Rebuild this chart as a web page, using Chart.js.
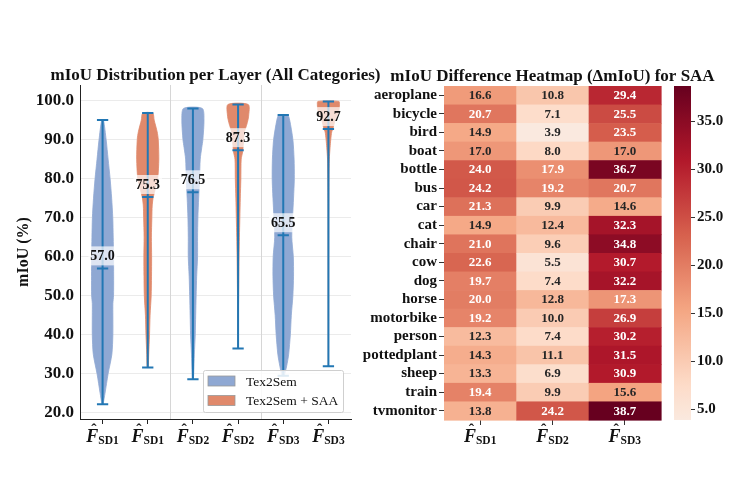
<!DOCTYPE html>
<html lang="en">
<head>
<meta charset="UTF-8">
<title>mIoU Distribution and Difference Heatmap</title>
<script src="https://cdn.jsdelivr.net/npm/chart.js@4.4.0/dist/chart.umd.min.js"></script>
<style>
    body { margin: 0; background: #ffffff; }
    #wrap { position: relative; width: 745px; height: 478px; overflow: hidden; }
    #wrap canvas { position: absolute; top: 0; }
</style>
</head>
<body>
<div id="wrap">
    <canvas id="violinChart" width="400" height="478" style="left:0px"></canvas>
    <canvas id="heatChart" width="390" height="478" style="left:355px"></canvas>
    <canvas id="colorbarChart" width="80" height="478" style="left:665px"></canvas>
</div>
<script>
// ---- violin data (left panel) ----
const violinLayers = ['SD1', 'SD1', 'SD2', 'SD2', 'SD3', 'SD3'];
const violinGroup = [0, 1, 0, 1, 0, 1];
const groupNames = ['Tex2Sem', 'Tex2Sem + SAA'];
const violinMin = [22.2, 31.6, 28.6, 36.5, 29.5, 31.9];
const violinMax = [95.0, 96.8, 98.0, 99.0, 96.3, 99.8];
const violinMedian = [57.0, 75.3, 76.5, 87.3, 65.5, 92.7];
const yTicks = [20, 30, 40, 50, 60, 70, 80, 90, 100];

// density profiles (level, relative width)
const sd1BaseLevels = [22.2, 25, 30, 35, 40, 45, 48, 50, 55, 60, 65, 70, 75, 80, 85, 90, 95.0];
const sd1BaseDensity = [0.05, 0.22, 0.5, 0.84, 0.93, 0.93, 0.93, 0.99, 1.0, 0.99, 0.96, 0.92, 0.82, 0.68, 0.5, 0.32, 0.08];
const sd1SaaLevels = [31.6, 35, 40, 45, 50, 55, 60, 65, 70, 73, 75, 77, 80, 85, 90, 92, 95, 96.8];
const sd1SaaDensity = [0.05, 0.09, 0.16, 0.21, 0.31, 0.34, 0.35, 0.33, 0.37, 0.4, 0.48, 0.65, 0.9, 1.0, 0.95, 0.85, 0.58, 0.45];
const sd2BaseLevels = [28.6, 30, 35, 40, 45, 50, 55, 60, 65, 70, 75, 80, 85, 88, 90, 95, 98.0];
const sd2BaseDensity = [0.04, 0.07, 0.13, 0.21, 0.25, 0.29, 0.34, 0.42, 0.42, 0.45, 0.52, 0.6, 0.66, 0.8, 0.9, 1.0, 0.85];
const sd2SaaLevels = [36.5, 45, 50, 55, 60, 65, 70, 75, 80, 85, 87, 90, 92, 94, 96, 99.0];
const sd2SaaDensity = [0.01, 0.03, 0.05, 0.07, 0.09, 0.12, 0.16, 0.2, 0.25, 0.28, 0.42, 0.5, 0.58, 0.8, 0.95, 0.92];
const sd3BaseLevels = [29.5, 32, 35, 40, 45, 50, 55, 60, 65, 70, 75, 80, 85, 90, 95, 96.3];
const sd3BaseDensity = [0.1, 0.31, 0.49, 0.64, 0.73, 0.87, 0.93, 0.91, 0.77, 0.84, 0.93, 1.0, 0.98, 0.87, 0.58, 0.4];
const sd3SaaLevels = [31.9, 50, 70, 80, 85, 88, 90, 92, 93, 95, 97, 99, 99.8];
const sd3SaaDensity = [0.01, 0.02, 0.03, 0.05, 0.08, 0.15, 0.21, 0.3, 0.43, 0.6, 0.92, 1.0, 0.95];

const violinLevels = [sd1BaseLevels, sd1SaaLevels, sd2BaseLevels, sd2SaaLevels, sd3BaseLevels, sd3SaaLevels];
const violinDensity = [sd1BaseDensity, sd1SaaDensity, sd2BaseDensity, sd2SaaDensity, sd3BaseDensity, sd3SaaDensity];

// ---- heatmap data (right panel) ----
const layerNames = ['SD1', 'SD2', 'SD3'];
const classes = ['aeroplane', 'bicycle', 'bird', 'boat', 'bottle', 'bus', 'car', 'cat', 'chair',
    'cow', 'dog', 'horse', 'motorbike', 'person', 'pottedplant', 'sheep', 'train', 'tvmonitor'];
const deltaSD1 = [16.6, 20.7, 14.9, 17.0, 24.0, 24.2, 21.3, 14.9, 21.0, 22.6, 19.7, 20.0, 19.2, 12.3, 14.3, 13.3, 19.4, 13.8];
const deltaSD2 = [10.8, 7.1, 3.9, 8.0, 17.9, 19.2, 9.9, 12.4, 9.6, 5.5, 7.4, 12.8, 10.0, 7.4, 11.1, 6.9, 9.9, 24.2];
const deltaSD3 = [29.4, 25.5, 23.5, 17.0, 36.7, 20.7, 14.6, 32.3, 34.8, 30.7, 32.2, 17.3, 26.9, 30.2, 31.5, 30.9, 15.6, 38.7];
const colorbarTicks = [5, 10, 15, 20, 25, 30, 35];

const deltaColumns = [deltaSD1, deltaSD2, deltaSD3];
const allDelta = deltaColumns.flat();
const cbMin = Math.min(...allDelta);
const cbMax = Math.max(...allDelta);

// ---- styles ----
const SERIF = '"Liberation Serif", "DejaVu Serif", serif';
const groupColors = ['#8fa8d3', '#e0896b'];
const lineColor = '#2277b4';
const halfWidth = 0.245;   // max violin half width in category units
const capWidth = 0.125;
// RdBu_r upper half (centre 0)
const cmapColors = ['#f7f7f7', '#fddbc7', '#f4a582', '#d6604d', '#b2182b', '#67001f'];

Chart.defaults.font.family = SERIF;
Chart.defaults.color = '#111';

function hexToRgb(h) {
    const n = parseInt(h.slice(1), 16);
    return [(n >> 16) & 255, (n >> 8) & 255, n & 255];
}
const cmapRgb = cmapColors.map(hexToRgb);

function cmap(v) {
    const t = Math.max(0, Math.min(1, v / cbMax)) * (cmapRgb.length - 1);
    const i = Math.min(Math.floor(t), cmapRgb.length - 2);
    const f = t - i;
    const a = cmapRgb[i], b = cmapRgb[i + 1];
    return [0, 1, 2].map(k => a[k] + (b[k] - a[k]) * f);
}
function rgbStr(c) {
    return 'rgb(' + c.map(Math.round).join(',') + ')';
}
function luminance(c) {
    const ch = x => {
        x /= 255;
        return x <= 0.03928 ? x / 12.92 : Math.pow((x + 0.055) / 1.055, 2.4);
    };
    return 0.2126 * ch(c[0]) + 0.7152 * ch(c[1]) + 0.0722 * ch(c[2]);
}

// F-hat with subscript layer name, drawn as text
function drawLayerLabel(ctx, cx, base, name) {
    ctx.save();
    ctx.fillStyle = '#111';
    ctx.textBaseline = 'alphabetic';
    ctx.font = 'italic bold 18px ' + SERIF;
    const fW = ctx.measureText('F').width;
    ctx.font = 'bold 11.5px ' + SERIF;
    const sW = ctx.measureText(name).width;
    const x0 = cx - (fW + sW) / 2;
    ctx.textAlign = 'left';
    ctx.font = 'italic bold 18px ' + SERIF;
    ctx.fillText('F', x0, base);
    ctx.textAlign = 'center';
    ctx.font = 'bold 16px ' + SERIF;
    ctx.fillText('\u02C6', x0 + fW * 0.62, base - 7);
    ctx.textAlign = 'left';
    ctx.font = 'bold 11.5px ' + SERIF;
    ctx.fillText(name, x0 + fW, base + 2);
    ctx.restore();
}

function drawTitle(chart, text) {
    const {ctx, chartArea: a} = chart;
    ctx.save();
    ctx.font = 'bold 17px ' + SERIF;
    ctx.fillStyle = '#111';
    ctx.textAlign = 'center';
    ctx.textBaseline = 'alphabetic';
    ctx.fillText(text, (a.left + a.right) / 2, a.top - 5);
    ctx.restore();
}

// ---- violin chart ----
const violinDatasets = violinLevels.map((levels, i) => {
    const dens = violinDensity[i];
    const right = levels.map((y, k) => ({x: i + halfWidth * dens[k], y: y}));
    const left = levels.map((y, k) => ({x: i - halfWidth * dens[k], y: y})).reverse();
    const color = groupColors[violinGroup[i]];
    return {
        data: right.concat(left, [right[0]]),
        showLine: true,
        fill: 'shape',
        backgroundColor: color,
        borderColor: color,
        borderWidth: 0.8,
        pointRadius: 0,
        tension: 0.25
    };
});

const violinExtras = {
    id: 'violinExtras',
    beforeDatasetsDraw(chart) {
        const {ctx, chartArea: a, scales: {x}} = chart;
        ctx.save();
        ctx.strokeStyle = '#d6d6d6';
        ctx.lineWidth = 1;
        for (let k = 1; k < layerNames.length; k++) {
            const px = Math.round(x.getPixelForValue(2 * k - 0.5)) + 0.5;
            ctx.beginPath();
            ctx.moveTo(px, a.top);
            ctx.lineTo(px, a.bottom);
            ctx.stroke();
        }
        ctx.restore();
    },
    afterDatasetsDraw(chart) {
        const {ctx, scales: {x, y}} = chart;
        const cap = x.getPixelForValue(capWidth) - x.getPixelForValue(0);
        ctx.save();
        ctx.strokeStyle = lineColor;
        ctx.lineWidth = 2;
        violinMedian.forEach((med, i) => {
            const cx = x.getPixelForValue(i);
            const yLo = y.getPixelForValue(violinMin[i]);
            const yHi = y.getPixelForValue(violinMax[i]);
            const yMed = y.getPixelForValue(med);
            ctx.beginPath();
            ctx.moveTo(cx, yLo); ctx.lineTo(cx, yHi);
            [yLo, yHi, yMed].forEach(py => {
                ctx.moveTo(cx - cap, py); ctx.lineTo(cx + cap, py);
            });
            ctx.stroke();
        });
        // median labels
        ctx.font = 'bold 14px ' + SERIF;
        ctx.textAlign = 'center';
        ctx.textBaseline = 'alphabetic';
        violinMedian.forEach((med, i) => {
            const cx = x.getPixelForValue(i);
            const yMed = y.getPixelForValue(med);
            const txt = med.toFixed(1);
            const w = ctx.measureText(txt).width;
            ctx.fillStyle = 'rgba(255,255,255,0.7)';
            ctx.fillRect(cx - w / 2 - 2, yMed - 22, w + 4, 19);
            ctx.fillStyle = '#111';
            ctx.fillText(txt, cx, yMed - 8);
        });
        ctx.restore();
    },
    afterDraw(chart) {
        const {ctx, chartArea: a, scales: {x}} = chart;
        drawTitle(chart, 'mIoU Distribution per Layer (All Categories)');
        violinLayers.forEach((name, i) => drawLayerLabel(ctx, x.getPixelForValue(i), a.bottom + 22.5, name));
        // legend
        ctx.save();
        const bw = 140, bh = 42;
        const bx = a.right - 8 - bw, by = a.bottom - 7 - bh;
        ctx.fillStyle = 'rgba(255,255,255,0.85)';
        ctx.strokeStyle = '#cfcfcf';
        ctx.lineWidth = 1;
        ctx.beginPath();
        ctx.roundRect(bx + 0.5, by + 0.5, bw, bh, 2);
        ctx.fill();
        ctx.stroke();
        ctx.font = '13.5px ' + SERIF;
        ctx.textAlign = 'left';
        ctx.textBaseline = 'middle';
        groupNames.forEach((name, k) => {
            const cy = by + 11 + k * 19.5;
            ctx.fillStyle = groupColors[k];
            ctx.fillRect(bx + 5, cy - 5, 27, 10);
            ctx.strokeStyle = '#9a9a9a';
            ctx.lineWidth = 0.8;
            ctx.strokeRect(bx + 5, cy - 5, 27, 10);
            ctx.fillStyle = '#111';
            ctx.fillText(name, bx + 43, cy + 1);
        });
        ctx.restore();
    }
};

new Chart(document.getElementById('violinChart'), {
    type: 'scatter',
    data: { datasets: violinDatasets },
    options: {
        responsive: false,
        animation: false,
        layout: { padding: { top: 85, right: 49, left: 0, bottom: 0 } },
        plugins: { legend: { display: false }, tooltip: { enabled: false } },
        scales: {
            x: {
                type: 'linear',
                min: -0.5,
                max: violinLayers.length - 0.5,
                afterBuildTicks: s => { s.ticks = violinLayers.map((_, i) => ({value: i})); },
                afterFit: s => { s.height = 59; },
                grid: { drawOnChartArea: false, drawTicks: true, tickLength: 5, color: '#222' },
                border: { color: '#222', width: 1 },
                ticks: { callback: () => '' }
            },
            y: {
                min: 18.4,
                max: 104,
                afterBuildTicks: s => { s.ticks = yTicks.map(v => ({value: v})); },
                afterFit: s => { s.width = 80; },
                grid: { color: '#ebebeb', drawTicks: false },
                border: { color: '#222', width: 1 },
                ticks: { padding: 6, color: '#111', font: { size: 17, weight: 'bold' }, callback: v => v.toFixed(1) },
                title: { display: true, text: 'mIoU (%)', color: '#111', font: { size: 16, weight: 'bold' }, padding: { top: 14, bottom: 0 } }
            }
        }
    },
    plugins: [violinExtras]
});

// ---- heatmap ----
const heatCells = {
    id: 'heatCells',
    afterDatasetsDraw(chart) {
        const {ctx, scales: {x, y}} = chart;
        const cw = x.getPixelForValue(1) - x.getPixelForValue(0);
        const rh = y.getPixelForValue(1) - y.getPixelForValue(0);
        ctx.save();
        deltaColumns.forEach((col, j) => col.forEach((v, i) => {
            ctx.fillStyle = rgbStr(cmap(v));
            ctx.fillRect(x.getPixelForValue(j) - cw / 2, y.getPixelForValue(i) - rh / 2, cw + 0.6, rh + 0.6);
        }));
        ctx.font = 'bold 13px ' + SERIF;
        ctx.textAlign = 'center';
        ctx.textBaseline = 'middle';
        deltaColumns.forEach((col, j) => col.forEach((v, i) => {
            ctx.fillStyle = luminance(cmap(v)) > 0.408 ? '#262626' : '#ffffff';
            ctx.fillText(v.toFixed(1), x.getPixelForValue(j), y.getPixelForValue(i) + 0.5);
        }));
        ctx.restore();
    },
    afterDraw(chart) {
        const {ctx, chartArea: a, scales: {x}} = chart;
        drawTitle(chart, 'mIoU Difference Heatmap (\u0394mIoU) for SAA');
        layerNames.forEach((name, j) => drawLayerLabel(ctx, x.getPixelForValue(j), a.bottom + 22, name));
    }
};

new Chart(document.getElementById('heatChart'), {
    type: 'bar',
    data: { labels: classes, datasets: [] },
    options: {
        responsive: false,
        animation: false,
        layout: { padding: { top: 86, right: 84, left: 0, bottom: 0 } },
        plugins: { legend: { display: false }, tooltip: { enabled: false } },
        scales: {
            x: {
                type: 'category',
                labels: layerNames,
                offset: true,
                afterFit: s => { s.height = 58; },
                grid: { drawOnChartArea: false, tickLength: 5, color: '#333', offset: false },
                border: { display: false },
                ticks: { callback: () => '' }
            },
            y: {
                type: 'category',
                labels: classes,
                offset: true,
                afterFit: s => { s.width = 89; },
                grid: { drawOnChartArea: false, tickLength: 5, color: '#333', offset: false },
                border: { display: false },
                ticks: { autoSkip: false, padding: 2, color: '#111', font: { size: 15, weight: 'bold' } }
            }
        }
    },
    plugins: [heatCells]
});

// ---- colorbar ----
new Chart(document.getElementById('colorbarChart'), {
    type: 'bar',
    data: {
        labels: [''],
        datasets: [{
            data: [[cbMin, cbMax]],
            barPercentage: 1,
            categoryPercentage: 1,
            borderWidth: 0,
            backgroundColor: c => {
                const ch = c.chart;
                if (!ch.chartArea) return null;
                const ys = ch.scales.y;
                const g = ch.ctx.createLinearGradient(0, ys.getPixelForValue(cbMin), 0, ys.getPixelForValue(cbMax));
                for (let k = 0; k <= 40; k++) {
                    g.addColorStop(k / 40, rgbStr(cmap(cbMin + (cbMax - cbMin) * k / 40)));
                }
                return g;
            }
        }]
    },
    options: {
        responsive: false,
        animation: false,
        layout: { padding: { top: 86, right: 0, left: 9, bottom: 58 } },
        plugins: { legend: { display: false }, tooltip: { enabled: false } },
        scales: {
            x: { display: false },
            y: {
                position: 'right',
                min: cbMin,
                max: cbMax,
                afterBuildTicks: s => { s.ticks = colorbarTicks.map(v => ({value: v})); },
                afterFit: s => { s.width = 54; },
                grid: { drawOnChartArea: false, tickLength: 4, color: '#333' },
                border: { display: false },
                ticks: { padding: 2, color: '#111', font: { size: 15, weight: 'bold' }, callback: v => v.toFixed(1) }
            }
        }
    }
});
</script>
</body>
</html>
